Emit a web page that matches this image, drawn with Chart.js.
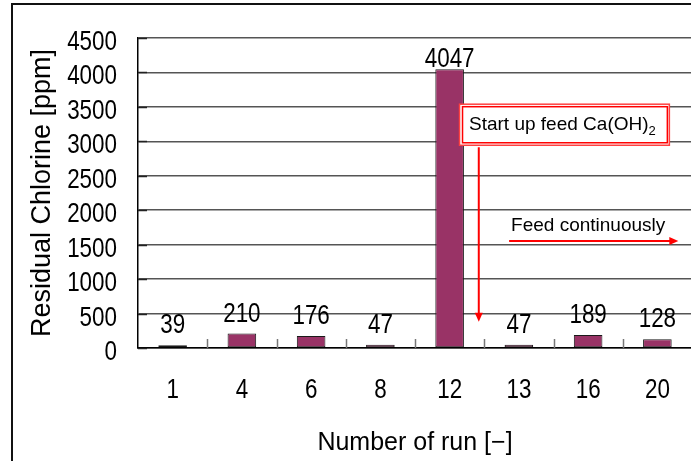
<!DOCTYPE html>
<html>
<head>
<meta charset="utf-8">
<script src="https://cdn.jsdelivr.net/npm/chart.js@4.4.1/dist/chart.umd.min.js"></script>
<style>
  html, body { margin: 0; padding: 0; background: #fff; overflow: hidden; }
  #frame { position: absolute; left: 11px; top: 3px; width: 720px; height: 500px; border: 2px solid #111; }
  #wrap { position: absolute; left: 0; top: 0; width: 700px; height: 461px; }
</style>
</head>
<body>
<div id="frame"></div>
<div id="wrap"><canvas id="chlorineChart"></canvas></div>
<script>
const runs = ["1", "4", "6", "8", "12", "13", "16", "20"];
const chlorinePpm = [39, 210, 176, 47, 4047, 47, 189, 128];
const yTicks = [0, 500, 1000, 1500, 2000, 2500, 3000, 3500, 4000, 4500];

const numberFont = "27px 'Liberation Sans', Arial, sans-serif";
const titleFont = "'Liberation Sans', Arial, sans-serif";
const noteFont = "'Liberation Sans', Arial, sans-serif";
const narrow = 0.83; // digits are set in a condensed face
const red = "#ff0000";

// notes placed in data units (x = category index, y = ppm)
const startNote = { text: "Start up feed Ca(OH)", sub: "2", x: 4.28, y: 3165, box: [4.143, 3539, 7.173, 2943] };
const startArrow = { x: 4.421, from: 2914, to: 382 };
const feedNote = { text: "Feed continuously", x: 4.887, y: 1698 };
const feedArrow = { y: 1554, from: 4.859, to: 7.302 };

function narrowText(ctx, text, x, y, align) {
  ctx.save();
  ctx.translate(x, y);
  ctx.scale(narrow, 1);
  ctx.textAlign = align;
  ctx.fillText(text, 0, 0);
  ctx.restore();
}

function arrowHead(ctx, x, y, dx, dy) {
  const len = 9, half = 4;
  const px = -dy, py = dx;
  ctx.beginPath();
  ctx.moveTo(x, y);
  ctx.lineTo(x - dx * len + px * half, y - dy * len + py * half);
  ctx.lineTo(x - dx * len - px * half, y - dy * len - py * half);
  ctx.closePath();
  ctx.fill();
}

const innerTicks = {
  id: "innerTicks",
  beforeDatasetsDraw(chart) {
    const { ctx, chartArea: a, scales: { x, y } } = chart;
    ctx.save();
    ctx.strokeStyle = "#777";
    ctx.lineWidth = 1.5;
    for (let i = 0; i < runs.length - 1; i++) {
      const px = Math.round((x.getPixelForValue(i) + x.getPixelForValue(i + 1)) / 2) + 0.5;
      ctx.beginPath();
      ctx.moveTo(px, a.bottom);
      ctx.lineTo(px, a.bottom - 9);
      ctx.stroke();
    }
    ctx.strokeStyle = "#222";
    yTicks.forEach(v => {
      const py = Math.round(y.getPixelForValue(v)) + 0.5;
      ctx.beginPath();
      ctx.moveTo(a.left, py);
      ctx.lineTo(a.left + 9, py);
      ctx.stroke();
    });
    ctx.restore();
  }
};

// axis numbers and bar values, drawn condensed
const numbers = {
  id: "numbers",
  afterDatasetsDraw(chart) {
    const { ctx, chartArea: a, scales: { x, y } } = chart;
    ctx.save();
    ctx.font = numberFont;
    ctx.fillStyle = "#000";
    ctx.textBaseline = "alphabetic";
    yTicks.forEach(v => narrowText(ctx, String(v), a.left - 21, y.getPixelForValue(v) + 12, "right"));
    runs.forEach((r, i) => narrowText(ctx, r, x.getPixelForValue(i), a.bottom + 50, "center"));
    chart.getDatasetMeta(0).data.forEach((bar, i) => {
      const yPos = Math.max(bar.y - 12, a.top + 29);
      narrowText(ctx, String(chlorinePpm[i]), bar.x, yPos, "center");
    });
    ctx.restore();
  }
};

const notes = {
  id: "notes",
  afterDatasetsDraw(chart) {
    const { ctx, scales: { x, y } } = chart;
    ctx.save();
    // double red frame around the start-up note
    const [bx0, by0, bx1, by1] = startNote.box;
    const l = x.getPixelForValue(bx0), t = y.getPixelForValue(by0);
    const r = x.getPixelForValue(bx1), b = y.getPixelForValue(by1);
    ctx.fillStyle = "#fff";
    ctx.fillRect(l, t, r - l, b - t);
    ctx.strokeStyle = "#ff4040";
    ctx.lineWidth = 1.5;
    ctx.strokeRect(l, t, r - l, b - t);
    ctx.strokeStyle = red;
    ctx.strokeRect(l + 3, t + 2.5, r - l - 5, b - t - 5);

    ctx.fillStyle = "#000";
    ctx.textBaseline = "alphabetic";
    ctx.font = "19px " + noteFont;
    const tx = x.getPixelForValue(startNote.x), ty = y.getPixelForValue(startNote.y);
    ctx.fillText(startNote.text, tx, ty);
    const w = ctx.measureText(startNote.text).width;
    ctx.font = "13px " + noteFont;
    ctx.fillText(startNote.sub, tx + w, ty + 5);

    ctx.font = "19px " + noteFont;
    ctx.fillText(feedNote.text, x.getPixelForValue(feedNote.x), y.getPixelForValue(feedNote.y));

    // arrows
    ctx.strokeStyle = red;
    ctx.fillStyle = red;
    ctx.lineWidth = 2;
    const ax = x.getPixelForValue(startArrow.x);
    const ay0 = y.getPixelForValue(startArrow.from), ay1 = y.getPixelForValue(startArrow.to);
    ctx.beginPath();
    ctx.moveTo(ax, ay0);
    ctx.lineTo(ax, ay1 - 6);
    ctx.stroke();
    arrowHead(ctx, ax, ay1, 0, 1);

    const hy = y.getPixelForValue(feedArrow.y);
    const hx0 = x.getPixelForValue(feedArrow.from), hx1 = x.getPixelForValue(feedArrow.to);
    ctx.beginPath();
    ctx.moveTo(hx0, hy);
    ctx.lineTo(hx1 - 6, hy);
    ctx.stroke();
    arrowHead(ctx, hx1, hy, 1, 0);
    ctx.restore();
  }
};

new Chart(document.getElementById("chlorineChart"), {
  type: "bar",
  data: {
    labels: runs,
    datasets: [{
      data: chlorinePpm,
      backgroundColor: "#993366",
      borderColor: "#1a1a1a",
      borderWidth: 1,
      borderSkipped: false,
      categoryPercentage: 1,
      barPercentage: 0.413
    }]
  },
  options: {
    responsive: true,
    maintainAspectRatio: false,
    animation: false,
    devicePixelRatio: 1,
    layout: { padding: { left: 0, right: 8, top: 38, bottom: 0 } },
    plugins: {
      legend: { display: false },
      tooltip: { enabled: false }
    },
    scales: {
      x: {
        grid: { display: false, drawTicks: false },
        border: { color: "#000", width: 1.5 },
        ticks: { display: false },
        title: {
          display: true,
          text: "Number of run [−]",
          color: "#000",
          font: { family: titleFont, size: 25 },
          padding: { top: 0, bottom: 3 }
        },
        afterFit(scale) { scale.height = 113; }
      },
      y: {
        min: 0,
        max: 4500,
        afterBuildTicks(scale) { scale.ticks = yTicks.map(v => ({ value: v })); },
        grid: { color: "#555", lineWidth: 1.5, drawTicks: false },
        border: { color: "#000", width: 1.5 },
        ticks: { display: false, autoSkip: false },
        title: {
          display: true,
          text: "Residual Chlorine [ppm]",
          color: "#000",
          font: { family: titleFont, size: 27 },
          padding: { top: 26, bottom: 0 }
        },
        afterFit(scale) { scale.width = 138; }
      }
    }
  },
  plugins: [innerTicks, numbers, notes]
});
</script>
</body>
</html>
